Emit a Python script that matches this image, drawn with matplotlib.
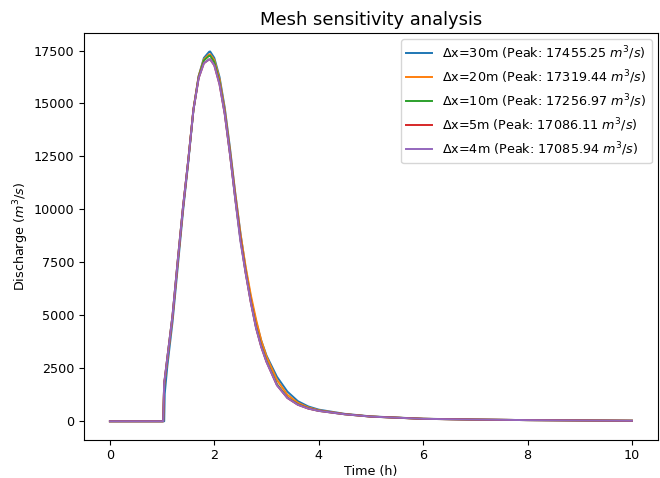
import numpy as np
import matplotlib
matplotlib.use("Agg")
import matplotlib.pyplot as plt

# time axis (h), shared by all runs
t = [0, 1.02, 1.04, 1.05, 1.1, 1.2, 1.3, 1.4, 1.5, 1.6, 1.7, 1.8, 1.9, 1.92, 2.0, 2.1, 2.2, 2.3, 2.4,
     2.5, 2.6, 2.7, 2.8, 2.9, 3.0, 3.2, 3.4, 3.6, 3.8, 4.0, 4.5, 5.0, 6.0, 7.0, 8.0, 9.0, 10.0]

# discharge (m3/s) per mesh size
q_30m = [0, 0, 0, 1300, 2600, 4700, 7300, 9900, 12200, 14700, 16300, 17150, 17440, 17455, 17150, 16250, 14800, 12900, 10800,
         8900, 7200, 5800, 4700, 3800, 3100, 2100, 1400, 950, 700, 550, 350, 230, 120, 80, 55, 40, 25]
q_20m = [0, 0, 1700, 1900, 2900, 4900, 7500, 10050, 12300, 14750, 16300, 17080, 17315, 17319, 17050, 16150, 14700, 12800, 10750,
         8850, 7300, 5950, 4800, 3800, 3050, 1950, 1250, 870, 650, 520, 340, 225, 118, 80, 55, 40, 25]
q_10m = [0, 0, 1800, 1950, 3000, 5000, 7600, 10100, 12300, 14700, 16250, 17030, 17250, 17257, 16950, 16000, 14550, 12650, 10550,
         8600, 7050, 5650, 4450, 3550, 2850, 1750, 1120, 800, 610, 495, 330, 220, 115, 80, 55, 40, 25]
q_5m = [0, 0, 1850, 2000, 3000, 5000, 7600, 10100, 12300, 14700, 16200, 16900, 17080, 17086, 16800, 15900, 14500, 12600, 10550,
        8600, 7000, 5600, 4400, 3500, 2800, 1700, 1100, 780, 600, 490, 330, 220, 115, 80, 55, 40, 25]
q_4m = [0, 0, 1850, 2000, 3000, 5000, 7600, 10100, 12300, 14700, 16200, 16900, 17080, 17086, 16800, 15900, 14500, 12600, 10500,
        8500, 7000, 5600, 4400, 3500, 2800, 1700, 1100, 780, 600, 490, 330, 220, 115, 80, 55, 40, 25]

labels = ['30m', '20m', '10m', '5m', '4m']
peaks = ['17455.25', '17319.44', '17256.97', '17086.11', '17085.94']
series = [q_30m, q_20m, q_10m, q_5m, q_4m]

fs = 9.2
plt.rcParams['font.size'] = fs

fig, ax = plt.subplots(figsize=(6.6, 4.78), dpi=100)
for lab, pk, q in zip(labels, peaks, series):
    ax.plot(t, q, lw=1.4, label='Δx=' + lab + ' (Peak: ' + pk + ' $m^3/s$)')

ax.set_title('Mesh sensitivity analysis', fontsize=12.9)
ax.set_xlabel('Time (h)', fontsize=fs, labelpad=2)
ax.set_ylabel('Discharge ($m^3/s$)', fontsize=fs, labelpad=2)
ax.tick_params(labelsize=fs)
ax.legend(loc='upper right', fontsize=fs)
plt.subplots_adjust(left=0.127, right=0.997, top=0.931, bottom=0.08)
plt.savefig('out.png', dpi=100)
